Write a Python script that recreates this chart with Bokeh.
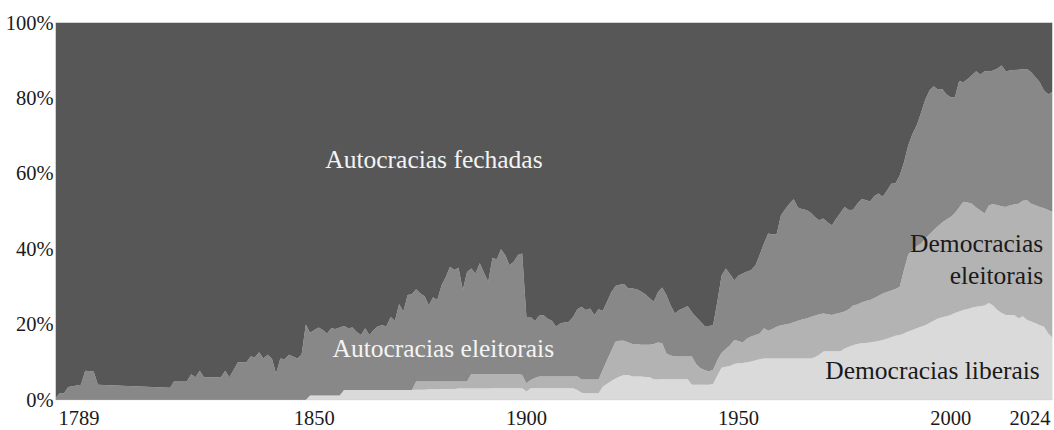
from bokeh.plotting import figure
from bokeh.models import Label, Range1d, ColumnDataSource, FixedTicker, BoxAnnotation
from bokeh.core.properties import value
from bokeh.embed import file_html
from bokeh.resources import INLINE

# ---------------- data (shares in %, cumulative boundaries) ----------------
early_years = [1789, 1790, 1791, 1792, 1795, 1796, 1798, 1799, 1816, 1817, 1820, 1821, 1822,
               1823, 1824, 1828, 1829, 1830, 1832, 1834, 1835, 1836, 1837, 1838, 1839, 1840,
               1841, 1842, 1843, 1844, 1845, 1846, 1847]
years = early_years + list(range(1848, 2025))

# top of "Democracias liberais"
top_liberal = [0.0] * len(early_years) + [
    0.0, 1.2, 1.2, 1.2, 1.2, 1.2, 1.2, 1.2, 1.2, 2.6,
    2.6, 2.6, 2.6, 2.6, 2.6, 2.6, 2.6, 2.6, 2.6, 2.6,
    2.6, 2.6, 2.6, 2.6, 2.6, 2.6, 2.7, 2.7, 2.7, 2.8,
    2.8, 2.8, 2.9, 2.9, 2.9, 2.9, 3.0, 3.0, 3.0, 3.0,
    3.0, 3.0, 3.0, 3.0, 3.1, 3.1, 3.1, 3.1, 3.1, 3.1,
    3.1, 3.1, 2.2, 3.1, 3.1, 3.1, 3.1, 3.1, 3.1, 3.1,
    3.1, 3.1, 3.1, 3.1, 2.6, 1.9, 1.8, 1.8, 1.8, 1.8,
    3.5, 4.3, 5.0, 5.7, 6.2, 6.6, 6.6, 6.2, 6.2, 6.2,
    6.1, 6.1, 5.5, 5.4, 5.5, 5.5, 5.5, 5.5, 5.5, 5.5,
    5.5, 4.0, 4.0, 4.0, 4.0, 4.0, 4.2, 6.5, 8.5, 8.8,
    9.0, 9.5, 9.7, 9.8, 10.0, 10.2, 10.5, 10.8, 11.0, 11.0,
    11.0, 11.0, 11.0, 11.0, 11.0, 11.0, 11.0, 11.0, 11.0, 11.0,
    11.3, 12.0, 12.8, 12.9, 12.9, 12.9, 12.9, 13.6, 14.1, 14.5,
    14.8, 15.0, 15.1, 15.2, 15.4, 15.6, 15.9, 16.2, 16.6, 17.0,
    17.2, 17.6, 18.1, 18.5, 19.0, 19.4, 19.8, 20.4, 21.0, 21.6,
    21.9, 22.2, 22.5, 23.0, 23.4, 23.8, 24.1, 24.4, 24.7, 24.8,
    25.0, 25.7, 25.0, 23.8, 23.0, 22.5, 22.5, 22.5, 21.6, 22.2,
    21.2, 20.8, 20.3, 19.8, 19.4, 17.6, 16.5]

# top of "Democracias eleitorais"
top_electoral_dem = [0.0] * len(early_years) + [
    0.0, 1.2, 1.2, 1.2, 1.2, 1.2, 1.2, 1.2, 1.2, 2.6,
    2.6, 2.6, 2.6, 2.6, 2.6, 2.6, 2.6, 2.6, 2.6, 2.6,
    2.6, 2.6, 2.6, 2.6, 2.6, 2.6, 4.9, 4.9, 4.9, 4.9,
    4.9, 4.9, 4.9, 4.9, 4.9, 4.9, 4.9, 4.9, 4.9, 6.9,
    6.9, 6.9, 6.9, 6.9, 6.9, 6.9, 6.9, 6.9, 6.9, 6.9,
    6.9, 6.6, 4.4, 5.3, 5.8, 6.2, 6.2, 6.2, 6.2, 6.2,
    6.2, 6.2, 6.2, 6.2, 6.2, 5.4, 5.4, 5.4, 5.4, 5.4,
    8.0, 10.5, 13.0, 15.4, 15.7, 15.7, 15.2, 14.8, 14.8, 14.6,
    14.6, 14.6, 14.8, 15.2, 15.0, 12.3, 11.8, 11.5, 11.5, 11.5,
    11.5, 11.5, 9.5, 8.4, 7.9, 7.5, 8.0, 10.5, 12.5, 13.5,
    14.5, 15.9, 15.6, 15.2, 16.3, 16.8, 17.2, 17.6, 19.0, 18.3,
    18.8, 19.4, 19.8, 20.0, 20.2, 20.6, 21.0, 21.3, 21.6, 22.0,
    22.3, 22.7, 22.9, 22.7, 22.5, 22.8, 23.1, 23.4, 24.0, 25.0,
    25.3, 25.8, 26.2, 26.5, 27.0, 27.6, 28.2, 28.6, 29.0, 29.4,
    30.0, 34.5, 38.5, 39.8, 40.8, 41.4, 42.8, 43.8, 45.0, 46.0,
    47.0, 47.8, 48.5, 49.5, 51.0, 52.5, 52.3, 52.0, 51.0, 50.2,
    49.4, 51.5, 51.9, 51.6, 51.3, 51.1, 51.6, 51.8, 52.0, 52.8,
    52.9, 52.0, 51.6, 51.1, 50.8, 50.3, 49.8]

# top of "Autocracias eleitorais"
top_electoral_aut = [
    0.5, 1.8, 1.8, 3.4, 4.0, 7.7, 7.5, 4.0, 3.2, 5.0, 5.0, 6.8, 6.0,
    7.7, 6.0, 6.0, 7.7, 6.0, 10.0, 10.0, 11.5, 11.3, 12.6, 11.0, 12.0, 11.0,
    7.0, 11.0, 10.8, 12.0, 11.5, 11.0, 12.0,
    20.0, 17.8, 18.5, 19.2, 18.5, 17.6, 19.0, 18.8, 19.2, 19.6,
    19.0, 19.2, 18.0, 17.2, 19.0, 17.2, 18.5, 19.5, 19.8, 19.5,
    22.0, 21.0, 25.4, 23.4, 27.8, 28.0, 29.3, 28.2, 27.5, 25.1,
    27.2, 26.5, 30.4, 32.6, 35.3, 34.4, 35.0, 29.1, 33.9, 34.8,
    33.5, 36.2, 33.7, 31.3, 37.7, 37.2, 39.9, 38.4, 35.7, 36.6,
    38.4, 38.8, 22.0, 22.0, 20.9, 22.3, 22.5, 21.5, 21.0, 19.4,
    20.3, 20.5, 20.7, 22.0, 24.0, 24.7, 23.8, 24.2, 22.5, 24.0,
    23.6, 26.0, 28.5, 30.2, 30.5, 30.7, 29.5, 29.5, 29.3, 28.7,
    28.0, 27.0, 26.0, 28.5, 29.8, 27.8, 25.0, 22.9, 23.8, 24.3,
    24.9, 23.2, 22.0, 20.8, 19.6, 19.6, 19.8, 26.0, 33.0, 34.8,
    33.3, 31.7, 33.0, 33.5, 34.0, 34.4, 35.7, 38.5, 41.5, 44.1,
    43.8, 44.0, 48.9, 50.5, 52.0, 53.2, 51.0, 50.5, 50.3, 49.6,
    48.5, 47.6, 48.1, 47.0, 46.3, 48.0, 49.5, 51.1, 50.3, 50.4,
    52.0, 53.2, 53.0, 52.6, 54.0, 54.7, 53.8, 55.5, 57.3, 57.4,
    59.5, 63.0, 67.5, 70.5, 72.8, 76.0, 79.5, 82.0, 83.1, 82.2,
    82.4, 81.0, 80.2, 80.2, 84.5, 84.2, 85.0, 86.0, 87.1, 86.2,
    87.1, 87.0, 87.3, 87.8, 88.6, 87.1, 87.3, 87.4, 87.5, 87.6,
    87.7, 86.8, 85.5, 84.2, 82.0, 81.0, 81.6]

categories = ["Democracias liberais", "Democracias eleitorais",
              "Autocracias eleitorais", "Autocracias fechadas"]
colors = ["#dadada", "#b3b3b3", "#888888", "#575757"]

x_ticks = [1789, 1850, 1900, 1950, 2000, 2024]
x_tick_labels = ["1789", "1850", "1900", "1950", "2000", "2024"]
y_ticks = [0, 20, 40, 60, 80, 100]
y_tick_labels = ["0%", "20%", "40%", "60%", "80%", "100%"]

# ---------------- build ----------------
zeros = [0.0] * len(years)
hundred = [100.0] * len(years)
bounds = [zeros, top_liberal, top_electoral_dem, top_electoral_aut, hundred]

src = ColumnDataSource(data=dict(year=years))
for i in range(5):
    src.data["b%d" % i] = bounds[i]

FONT = "Liberation Serif"
TICK_SIZE = "20.5px"

# frame covers the data area plus a strip below it that holds the year labels
p = figure(width=1054, height=430, output_backend="svg", toolbar_location=None,
           x_range=Range1d(1789, 2024), y_range=Range1d(-8.1, 100),
           x_axis_location=None, y_axis_location="left",
           min_border_left=55, min_border_right=2, min_border_top=22, min_border_bottom=0)
p.outline_line_color = None
p.background_fill_color = "white"
p.border_fill_color = "white"
p.xgrid.grid_line_color = None
p.ygrid.grid_line_color = None

yax = p.yaxis[0]
yax.ticker = FixedTicker(ticks=y_ticks)
yax.major_label_overrides = {t: l for t, l in zip(y_ticks, y_tick_labels)}
yax.axis_line_color = None
yax.major_tick_line_color = None
yax.minor_tick_line_color = None
yax.major_tick_out = 0
yax.major_tick_in = 0
yax.major_label_standoff = 2
yax.major_label_text_font = FONT
yax.major_label_text_font_size = TICK_SIZE
yax.major_label_text_color = "#1a1a1a"

for i, (cat, col) in enumerate(zip(categories, colors)):
    p.varea(x="year", y1="b%d" % i, y2="b%d" % (i + 1), source=src,
            fill_color=col, fill_alpha=1.0)

# thin light border around the data area
p.add_layout(BoxAnnotation(left=1789, right=2024, bottom=0, top=100,
                           fill_alpha=0, line_color="#c4c4c4", line_width=1))

# year labels (first left-aligned, last right-aligned, as in the reference)
lab_y = -4.7
common = dict(text_baseline="middle", text_font=value(FONT), text_font_size=TICK_SIZE,
              text_color="#1a1a1a")
p.text(x=x_ticks[:1], y=[lab_y], text=x_tick_labels[:1], text_align="left", x_offset=3,
       **common)
p.text(x=x_ticks[1:-1], y=[lab_y] * (len(x_ticks) - 2), text=x_tick_labels[1:-1],
       text_align="center", **common)
p.text(x=x_ticks[-1:], y=[lab_y], text=x_tick_labels[-1:], text_align="right", x_offset=-2,
       **common)

# area labels
area_labels = [
    ("Autocracias fechadas", 1878.2, 63.6, "center", "#f4f4f4"),
    ("Autocracias eleitorais", 1880.4, 13.5, "center", "#f4f4f4"),
    ("Democracias", 2021.8, 41.4, "right", "#1a1a1a"),
    ("eleitorais", 2021.8, 33.0, "right", "#1a1a1a"),
    ("Democracias liberais", 2021.0, 7.9, "right", "#1a1a1a"),
]
for txt, xx, yy, al, col in area_labels:
    p.add_layout(Label(x=xx, y=yy, text=txt, text_align=al, text_baseline="middle",
                       text_font=FONT, text_font_size="25.5px", text_color=col))

open("out.html", "w").write(file_html(p, INLINE))
